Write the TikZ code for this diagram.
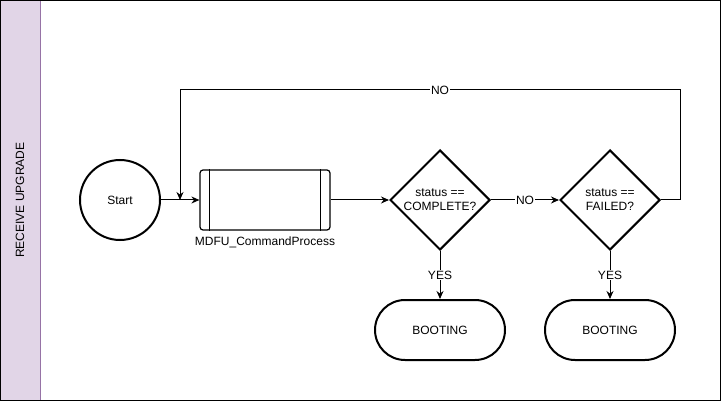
\documentclass[tikz,border=0pt]{standalone}
\usepackage{fontspec}
\setmainfont{Liberation Sans}
\usetikzlibrary{shapes.geometric,arrows.meta,positioning}
\definecolor{lanefill}{HTML}{E1D5E7}
\definecolor{laneedge}{HTML}{9673A6}

\begin{document}
\begin{tikzpicture}[x=1pt,y=1pt,
  font=\fontsize{12}{14}\selectfont,
  box/.style={draw=black,line width=2pt,fill=white,inner sep=0pt},
  flow/.style={draw=black,line width=1pt,-{Stealth[length=8pt,width=7pt]}},
  lbl/.style={fill=white,inner sep=1pt}]
\useasboundingbox (0,0) rectangle (721,-401);
\draw [laneedge,fill=lanefill,line width=1pt] (0.5,-0.5) rectangle (40,-400.5);
\draw [black,line width=1pt] (0.5,-0.5) rectangle (720.5,-400.5);
\node [rotate=90] (lane) at (20,-200) {RECEIVE UPGRADE};
\node [box,circle,minimum size=80] (start) at (120,-200) {Start};
\node [box,line width=1.2pt,rounded corners=3,minimum width=130,minimum height=60] (proc) at (265,-200) {};
\draw [line width=1.2pt] ([xshift=10]proc.north west) -- ([xshift=10]proc.south west);
\draw [line width=1.2pt] ([xshift=-10]proc.north east) -- ([xshift=-10]proc.south east);
\node [below=3pt of proc] (proclbl) {MDFU\_CommandProcess};
\node [box,diamond,minimum width=100,minimum height=100,inner sep=-3pt,align=center] (done) at (440,-200) {status ==\\COMPLETE?};
\node [box,diamond,minimum width=100,minimum height=100,inner sep=-3pt,align=center] (fail) at (610,-200) {status ==\\FAILED?};
\node [box,rounded corners=30,minimum width=130,minimum height=60] (bootA) at (440,-330) {BOOTING};
\node [box,rounded corners=30,minimum width=130,minimum height=60] (bootB) at (610,-330) {BOOTING};
\coordinate (join) at (180,-200);
\coordinate (loop) at (680,-90);
\draw [flow] (start) -- (proc);
\draw [flow] (proc) -- (done);
\draw [flow] (done) -- node [lbl] {NO} (fail);
\draw [flow] (done) -- node [lbl] {YES} (bootA);
\draw [flow] (fail) -- node [lbl] {YES} (bootB);
\draw [flow] (fail.east) -| (loop) -- node [lbl,pos=0.48] {NO} (join |- loop) -- (join);
\end{tikzpicture}
\end{document}
